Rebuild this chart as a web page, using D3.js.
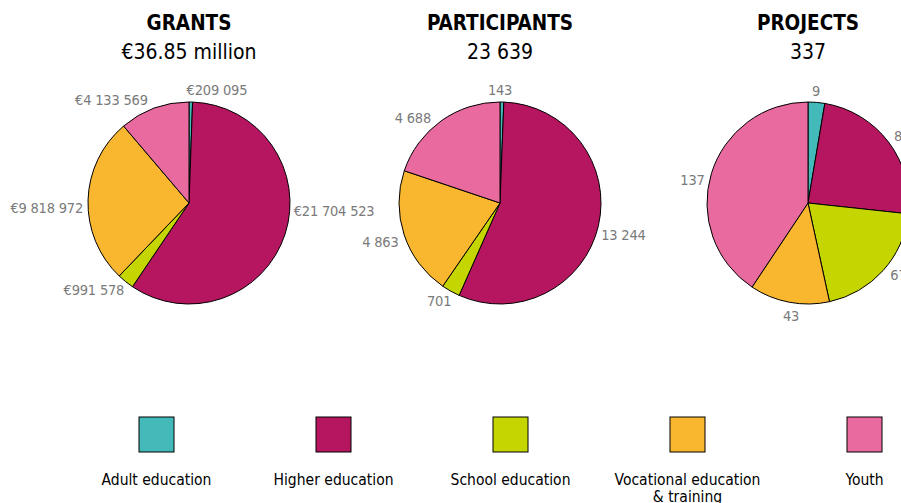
<!DOCTYPE html>
<html>
<head>
<meta charset="utf-8">
<script src="https://cdn.jsdelivr.net/npm/d3@7"></script>
<style>
  body { margin: 0; background: #fff; }
  svg text { font-family: "Liberation Sans Narrow", "DejaVu Sans Condensed", "Roboto", sans-serif; }
</style>
</head>
<body>
<div id="chart"></div>
<script>
// 分類與顏色
const categories = ["Adult education", "Higher education", "School education", "Vocational education & training", "Youth"];
const colors = ["#44b9ba", "#b6165f", "#c5d500", "#f9b62f", "#e96a9f"];

// 三個圓餅的資料
const grantsValues = [209095, 21704523, 991578, 9818972, 4133569];
const participantsValues = [143, 13244, 701, 4863, 4688];
const projectsValues = [9, 81, 67, 43, 137];

const grantsLabels = ["€209 095", "€21 704 523", "€991 578", "€9 818 972", "€4 133 569"];
const participantsLabels = ["143", "13 244", "701", "4 863", "4 688"];
const projectsLabels = ["9", "81", "67", "43", "137"];

const chartTitles = ["GRANTS", "PARTICIPANTS", "PROJECTS"];
const chartTotals = ["€36.85 million", "23 639", "337"];

// 標籤微調 (dx, dy)
const labelNudges = [
  [[26, -5], [2, -26], [3, 3], [2, 8], [-4, -2]],
  [[-2, -5], [-4, 8], [4, 4], [1, 5], [-6, 3]],
  [[-1, -4], [0, -2], [2, 0], [3, 7], [0, 8]]
];

const width = 901, height = 503;
const radius = 101;
const centers = [189, 500, 808];
const cy = 203;

const svg = d3.select("#chart").append("svg")
  .attr("width", width)
  .attr("height", height);

const pie = d3.pie().sort(null).value(d => d);
const arc = d3.arc().innerRadius(0).outerRadius(radius);
const labelR = radius + 7;

const series = [
  {values: grantsValues, labels: grantsLabels},
  {values: participantsValues, labels: participantsLabels},
  {values: projectsValues, labels: projectsLabels}
];

series.forEach((s, k) => {
  const cx = centers[k];

  // 標題
  svg.append("text")
    .attr("x", cx).attr("y", 30)
    .attr("text-anchor", "middle")
    .attr("font-size", 20.5)
    .attr("font-weight", "bold")
    .attr("fill", "#000")
    .text(chartTitles[k]);

  svg.append("text")
    .attr("x", cx).attr("y", 59)
    .attr("text-anchor", "middle")
    .attr("font-size", 21)
    .attr("fill", "#000")
    .text(chartTotals[k]);

  const g = svg.append("g").attr("transform", `translate(${cx},${cy})`);
  const arcs = pie(s.values);

  g.selectAll("path")
    .data(arcs)
    .enter()
    .append("path")
    .attr("d", arc)
    .attr("fill", (d, i) => colors[i])
    .attr("stroke", "#000")
    .attr("stroke-width", 1)
    .attr("stroke-linejoin", "round");

  g.selectAll("text.lbl")
    .data(arcs)
    .enter()
    .append("text")
    .attr("class", "lbl")
    .attr("x", (d, i) => {
      const a = (d.startAngle + d.endAngle) / 2;
      return labelR * Math.sin(a) + labelNudges[k][i][0];
    })
    .attr("y", (d, i) => {
      const a = (d.startAngle + d.endAngle) / 2;
      return -labelR * Math.cos(a) + labelNudges[k][i][1];
    })
    .attr("dy", "0.35em")
    .attr("text-anchor", d => {
      const s = Math.sin((d.startAngle + d.endAngle) / 2);
      if (s > 0.3) return "start";
      if (s < -0.3) return "end";
      return "middle";
    })
    .attr("font-size", 14.5)
    .attr("letter-spacing", -0.2)
    .attr("fill", "#7a7a7a")
    .text((d, i) => s.labels[i]);
});

// 圖例
const legendX = d3.scaleBand()
  .domain(categories)
  .range([68, 953]);

const legend = svg.selectAll("g.legend")
  .data(categories)
  .enter()
  .append("g")
  .attr("class", "legend")
  .attr("transform", d => `translate(${legendX(d) + legendX.bandwidth() / 2},0)`);

legend.append("rect")
  .attr("x", -17.5).attr("y", 417)
  .attr("width", 35).attr("height", 35)
  .attr("fill", (d, i) => colors[i])
  .attr("stroke", "#000")
  .attr("stroke-width", 1);

legend.each(function(d) {
  const parts = d.indexOf("&") > 0 ? [d.slice(0, d.indexOf("&")).trim(), d.slice(d.indexOf("&"))] : [d];
  const t = d3.select(this).append("text")
    .attr("text-anchor", "middle")
    .attr("font-size", 15.5)
    .attr("fill", "#000");
  parts.forEach((p, j) => {
    t.append("tspan")
      .attr("x", 0)
      .attr("y", 485 + j * 17)
      .text(p);
  });
});
</script>
</body>
</html>
